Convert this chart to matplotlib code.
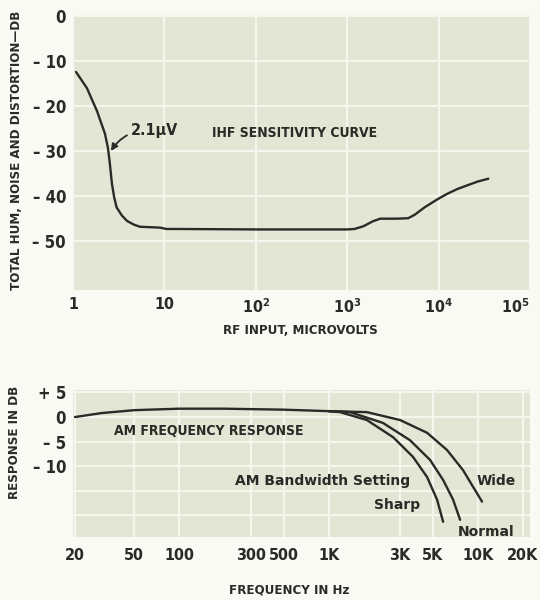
import matplotlib
matplotlib.use("Agg")
import matplotlib.pyplot as plt
from matplotlib.ticker import FixedLocator, NullFormatter

# IHF sensitivity curve: RF input (microvolts) vs total hum, noise and distortion (dB)
rf_uv = [1.08, 1.42, 1.83, 2.24, 2.41, 2.52, 2.67, 2.82, 3.0, 3.43, 3.9, 4.6,
         5.4, 7.0, 9.0, 10.5, 14.8, 100, 1000, 1200, 1500, 1900, 2300, 3500,
         4650, 5500, 7000, 9500, 12300, 16000, 20400, 27000, 35000]
thd_db = [-12.4, -16.0, -21.1, -26.2, -29.3, -32.5, -37.4, -40.3, -42.6, -44.4,
          -45.6, -46.4, -46.9, -47.0, -47.1, -47.4, -47.4, -47.5, -47.5, -47.4,
          -46.8, -45.7, -45.1, -45.1, -45.0, -44.2, -42.6, -40.9, -39.6, -38.5,
          -37.7, -36.8, -36.2]
sens_uv = 2.1
sens_point = (2.6, -30)

top_yticks = [0, -10, -20, -30, -40, -50]
top_ylabels = ["0", "– 10", "– 20", "– 30", "– 40", "– 50"]
top_xticks = [1, 10, 100, 1000, 10000, 100000]
top_xlabels = ["1", "10", "10$^{2}$", "10$^{3}$", "10$^{4}$", "10$^{5}$"]

# AM frequency response, shared part below 1 kHz then one branch per bandwidth
f_common = [20, 30, 50, 100, 200, 500, 1000]
r_common = [0.0, 0.8, 1.4, 1.7, 1.7, 1.5, 1.2]
f_sharp = [1000, 1190, 1800, 2700, 3670, 4560, 5320, 5840]
r_sharp = [1.2, 1.0, -0.6, -4.1, -8.1, -12.2, -16.8, -21.3]
f_normal = [1000, 1390, 2310, 3500, 4770, 5840, 6810, 7590]
r_normal = [1.2, 1.0, -1.2, -4.7, -8.7, -12.8, -16.8, -20.9]
f_wide = [1000, 1800, 3000, 4560, 6200, 7940, 9270, 10640]
r_wide = [1.2, 1.0, -0.6, -3.2, -6.7, -10.8, -14.2, -17.2]

bot_yticks = [5, 0, -5, -10]
bot_ylabels = ["+ 5", "0", "– 5", "– 10"]
bot_xticks = [20, 50, 100, 300, 500, 1000, 3000, 5000, 10000, 20000]
bot_xlabels = ["20", "50", "100", "300", "500", "1K", "3K", "5K", "10K", "20K"]

paper = "#fafaf4"
face = "#e3e6d4"
gridc = "#f6f6ef"
ink = "#2a2a26"

plt.rcParams["font.family"] = ["DejaVu Sans"]
plt.rcParams["font.stretch"] = "condensed"
plt.rcParams["font.weight"] = "bold"
plt.rcParams["mathtext.fontset"] = "custom"
plt.rcParams["mathtext.rm"] = "DejaVu Sans:bold:stretch=condensed"
plt.rcParams["mathtext.it"] = "DejaVu Sans:bold:stretch=condensed"

fig = plt.figure(figsize=(5.4, 6.0), dpi=100, facecolor=paper)
W, H = 540.0, 600.0


def add_axes(left, top, right, bottom):
    return fig.add_axes([left / W, 1 - bottom / H, (right - left) / W, (bottom - top) / H])


def style(ax):
    ax.set_facecolor(face)
    for s in ax.spines.values():
        s.set_visible(False)
    ax.grid(True, which="major", color=gridc, linewidth=1.6)
    ax.set_axisbelow(True)
    ax.tick_params(length=0, labelsize=12, labelcolor=ink)


# ---- top chart
ax1 = add_axes(73, 15, 530, 290)
style(ax1)
ax1.set_xscale("log")
ax1.set_xlim(1, 1e5)
ax1.set_ylim(-61, 0.3)
ax1.xaxis.set_major_locator(FixedLocator(top_xticks))
ax1.xaxis.set_minor_locator(FixedLocator([]))
ax1.xaxis.set_minor_formatter(NullFormatter())
ax1.set_xticklabels(top_xlabels)
ax1.set_yticks(top_yticks)
ax1.set_yticklabels(top_ylabels)
ax1.tick_params(axis="x", pad=5, labelsize=11.5)
ax1.tick_params(axis="y", pad=5)
ax1.get_xticklabels()[-1].set_ha("right")
ax1.plot(rf_uv, thd_db, color=ink, lw=1.7, solid_capstyle="round")

ax1.annotate("%.1f\u00b5V" % sens_uv, xy=sens_point, xytext=(131, H - 130),
             textcoords="figure pixels", fontsize=11.5, color=ink,
             va="center", ha="left",
             arrowprops=dict(arrowstyle="-|>", color=ink, lw=1.3,
                             mutation_scale=10, shrinkA=1, shrinkB=0,
                             connectionstyle="arc3,rad=0.3"))
fig.text(295 / W, 1 - 133 / H, "IHF SENSITIVITY CURVE", ha="center", va="center",
         fontsize=10, color=ink)

fig.text(17 / W, 1 - 150 / H, "TOTAL HUM, NOISE AND DISTORTION—DB", rotation=90,
         ha="center", va="center", fontsize=9.5, color=ink)
fig.text(300 / W, 1 - 330 / H, "RF INPUT, MICROVOLTS", ha="center", va="center",
         fontsize=9.5, color=ink)

# ---- bottom chart
ax2 = add_axes(73, 390, 530, 537)
style(ax2)
ax2.set_xscale("log")
ax2.set_xlim(19.4, 22300)
ax2.set_ylim(-24.4, 5.5)
ax2.xaxis.set_major_locator(FixedLocator(bot_xticks))
ax2.xaxis.set_minor_locator(FixedLocator([]))
ax2.xaxis.set_minor_formatter(NullFormatter())
ax2.set_xticklabels(bot_xlabels)
ax2.set_yticks([5, 0, -5, -10, -15, -20])
ax2.set_yticklabels(bot_ylabels + ["", ""])
ax2.tick_params(axis="x", pad=8, labelsize=11.5)
ax2.tick_params(axis="y", pad=5)
for fx, ry in [(f_common, r_common), (f_sharp, r_sharp), (f_normal, r_normal), (f_wide, r_wide)]:
    ax2.plot(fx, ry, color=ink, lw=1.7, solid_capstyle="round")

fig.text(209 / W, 1 - 431 / H, "AM FREQUENCY RESPONSE", ha="center", va="center",
         fontsize=10, color=ink)
for label, x, y in [("AM Bandwidth Setting", 410, 481), ("Sharp", 420, 505),
                    ("Wide", 516, 481), ("Normal", 514, 532)]:
    fig.text(x / W, 1 - y / H, label, ha="right", va="center", fontsize=10,
             color=ink, family=["DejaVu Sans"], fontweight="bold", fontstretch="normal")

fig.text(15 / W, 1 - 442 / H, "RESPONSE IN DB", rotation=90, ha="center",
         va="center", fontsize=9.5, color=ink)
fig.text(289 / W, 1 - 590 / H, "FREQUENCY IN Hz", ha="center", va="center",
         fontsize=9.5, color=ink)

fig.savefig("out.png", dpi=100, facecolor=paper)
